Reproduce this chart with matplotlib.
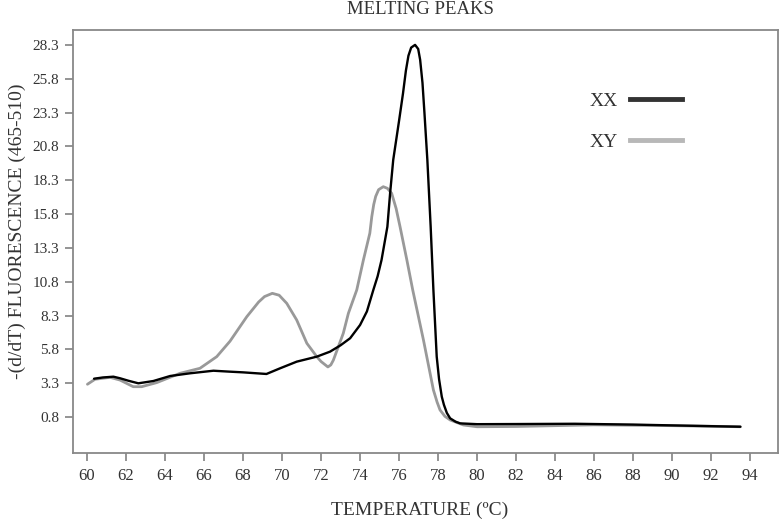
import matplotlib
matplotlib.use("Agg")
import matplotlib.pyplot as plt
from matplotlib.lines import Line2D

plt.rcParams['font.family'] = ['Liberation Serif', 'DejaVu Serif']

# XX curve (black), temperature in ºC and -(d/dT) fluorescence
xx_temp = [60.36, 60.8, 61.35, 61.7, 62.12, 62.63, 63.4, 64.26, 65.28, 66.48, 67.33,
           68.0, 69.2, 69.9, 70.75, 71.78, 72.46, 73.0, 73.49, 74.0, 74.35, 74.68,
           74.9, 75.1, 75.4, 75.54, 75.7, 76.0, 76.2, 76.35, 76.48, 76.62, 76.82,
           76.98, 77.08, 77.2, 77.3, 77.45, 77.62, 77.76, 77.93, 78.05, 78.19, 78.3,
           78.45, 78.62, 78.9, 79.13, 80.0, 82.0, 85.0, 88.0, 90.0, 93.5]
xx_val = [3.63, 3.72, 3.78, 3.66, 3.48, 3.29, 3.46, 3.83, 4.03, 4.22, 4.15,
          4.1, 3.98, 4.4, 4.89, 5.26, 5.63, 6.1, 6.62, 7.6, 8.6, 10.19,
          11.2, 12.4, 14.86, 17.33, 19.8, 22.7, 24.7, 26.4, 27.5, 28.1, 28.3,
          28.0, 27.2, 25.5, 23.3, 19.8, 14.86, 10.19, 5.26, 3.6, 2.3, 1.7,
          1.1, 0.7, 0.45, 0.33, 0.27, 0.28, 0.3, 0.24, 0.18, 0.08]

# XY curve (grey)
xy_temp = [60.02, 60.41, 61.18, 61.69, 62.37, 62.8, 63.57, 64.77, 65.79, 66.65, 67.33,
           68.19, 68.8, 69.1, 69.5, 69.85, 70.24, 70.75, 71.27, 71.78, 72.0, 72.35,
           72.5, 72.63, 73.14, 73.4, 73.83, 74.17, 74.5, 74.6, 74.7, 74.8, 74.95,
           75.19, 75.4, 75.62, 75.85, 76.05, 76.4, 76.7, 77.25, 77.76, 77.95, 78.1,
           78.35, 78.62, 79.3, 80.0, 82.0, 86.0, 90.0, 93.5]
xy_val = [3.22, 3.59, 3.73, 3.53, 3.04, 3.04, 3.34, 4.03, 4.4, 5.26, 6.4,
          8.21, 9.3, 9.7, 9.94, 9.8, 9.2, 7.97, 6.25, 5.26, 4.9, 4.5,
          4.65, 5.0, 6.99, 8.46, 10.19, 12.4, 14.38, 15.6, 16.5, 17.1, 17.6,
          17.82, 17.7, 17.33, 16.2, 14.86, 12.4, 10.19, 6.49, 2.8, 1.9, 1.32,
          0.85, 0.58, 0.21, 0.08, 0.1, 0.22, 0.16, 0.08]

x_ticks = [60, 62, 64, 66, 68, 70, 72, 74, 76, 78, 80, 82, 84, 86, 88, 90, 92, 94]
y_ticks = [0.8, 3.3, 5.8, 8.3, 10.8, 13.3, 15.8, 18.3, 20.8, 23.3, 25.8, 28.3]

fig = plt.figure(figsize=(7.8, 5.23), dpi=100)
ax = fig.add_axes([73 / 780, 70 / 523, 705 / 780, 423 / 523])

ax.plot(xy_temp, xy_val, color='#999999', lw=2.0, solid_capstyle='round',
        solid_joinstyle='round')
ax.plot(xx_temp, xx_val, color='#000000', lw=1.7, solid_capstyle='round',
        solid_joinstyle='round')

ax.set_xlim(59.28, 95.43)
ax.set_ylim(-1.86, 29.40)
ax.set_xticks(x_ticks)
ax.set_yticks(y_ticks)
ax.set_yticklabels([f"{v:.1f}" for v in y_ticks])

for s in ax.spines.values():
    s.set_color('#888888')
    s.set_linewidth(1.3)
ax.tick_params(axis='both', direction='out', length=6, width=1.1, color='#777777',
               labelcolor='#333333')
ax.tick_params(axis='x', labelsize=12, pad=5)
ax.tick_params(axis='y', labelsize=11, pad=4)

fig.text(420 / 780, 1 - 10 / 523, 'MELTING PEAKS', ha='center', va='center',
         fontsize=13.5, color='#333333')
fig.text(420 / 780, 1 - 510 / 523, 'TEMPERATURE (ºC)', ha='center', va='center',
         fontsize=14, color='#333333')
fig.text(17 / 780, 1 - 231 / 523, '-(d/dT) FLUORESCENCE (465-510)', ha='center',
         va='center', rotation=90, fontsize=14, color='#333333')

handles = [Line2D([], [], color='#333333', lw=3.5),
           Line2D([], [], color='#b8b8b8', lw=3.5)]
ax.legend(handles, ['XX', 'XY'], markerfirst=False, frameon=False, fontsize=14,
          handlelength=2.7, labelspacing=1.2, handletextpad=0.6,
          loc='upper left', bbox_to_anchor=(517 / 705, 1 - 62 / 423),
          borderaxespad=0, borderpad=0, labelcolor='#333333')

fig.savefig('out.png', dpi=100)
